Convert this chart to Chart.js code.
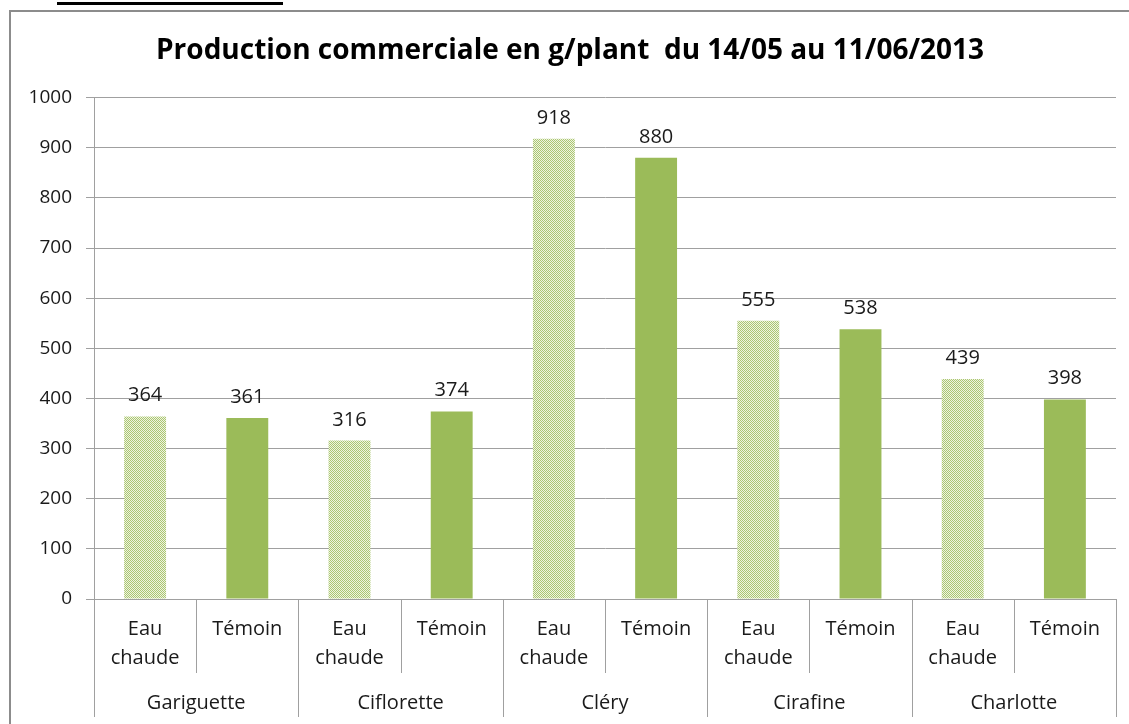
<!DOCTYPE html>
<html>
<head>
<meta charset="utf-8">
<script src="https://cdn.jsdelivr.net/npm/chart.js@4.4.0/dist/chart.umd.min.js"></script>
<style>
  html, body { margin: 0; padding: 0; background: #fff; }
  canvas { display: block; }
</style>
</head>
<body>
<canvas id="c" width="1129" height="724"></canvas>
<script>
// ---- data ----
const varieties = ['Gariguette', 'Ciflorette', 'Cléry', 'Cirafine', 'Charlotte'];
const treatments = [['Eau', 'chaude'], 'Témoin'];
const values = [364, 361, 316, 374, 918, 880, 555, 538, 439, 398];
const yMin = 0, yMax = 1000, yStep = 100;
const titleText = 'Production commerciale en g/plant  du 14/05 au 11/06/2013';

// ---- derived ----
const labels = [];
varieties.forEach(() => treatments.forEach(t => labels.push(t)));

// hatched pattern
function makePattern() {
  const p = document.createElement('canvas');
  p.width = 2; p.height = 2;
  const g = p.getContext('2d');
  g.fillStyle = '#eef4e0'; g.fillRect(0, 0, 2, 2);
  g.fillStyle = '#abc672'; g.fillRect(0, 0, 1, 1); g.fillRect(1, 1, 1, 1);
  return g.createPattern(p, 'repeat');
}
const ctx = document.getElementById('c').getContext('2d');
const hatch = makePattern();
const solid = '#9bbb59';
const colors = labels.map((_, i) => (i % 2 === 0 ? hatch : solid));

const FONT = "'Open Sans', 'Noto Sans', sans-serif";
const GRAY = '#a0a0a0';
const TEXT = '#1a1a1a';

const decorPlugin = {
  id: 'decor',
  beforeDraw(chart) {
    const c = chart.ctx;
    c.save();
    c.fillStyle = '#fff';
    c.fillRect(0, 0, chart.width, chart.height);
    c.strokeStyle = '#8c8c8c';
    c.lineWidth = 2;
    c.beginPath();
    c.moveTo(10, chart.height + 5);
    c.lineTo(10, 11);
    c.lineTo(chart.width + 5, 11);
    c.stroke();
    c.fillStyle = '#000';
    c.fillRect(57, 2, 226, 3);
    c.restore();
  },
  afterDraw(chart) {
    const c = chart.ctx;
    const x = chart.scales.x, x2 = chart.scales.x2;
    c.save();
    c.strokeStyle = GRAY;
    c.lineWidth = 1;
    for (let i = 0; i <= labels.length; i++) {
      const px = Math.round(x.getPixelForValue(i - 0.5)) + 0.5;
      const bottom = (i % treatments.length === 0) ? x2.bottom - 7 : x.bottom;
      c.beginPath();
      c.moveTo(px, x.top);
      c.lineTo(px, bottom);
      c.stroke();
    }
    // data labels
    const meta = chart.getDatasetMeta(0);
    c.fillStyle = TEXT;
    c.font = '20px ' + FONT;
    c.textAlign = 'center';
    c.textBaseline = 'alphabetic';
    meta.data.forEach((bar, i) => {
      c.fillText(String(values[i]), bar.x, bar.y - 15);
    });
    c.restore();
  }
};

new Chart(ctx, {
  type: 'bar',
  data: {
    labels: labels,
    datasets: [{
      data: values,
      backgroundColor: colors,
      borderWidth: 0,
      categoryPercentage: 1,
      barPercentage: 0.41
    }]
  },
  options: {
    responsive: false,
    animation: false,
    devicePixelRatio: 1,
    layout: { padding: { left: 24, right: 13, top: 0, bottom: 0 } },
    plugins: {
      legend: { display: false },
      tooltip: { enabled: false },
      title: {
        display: true,
        text: titleText,
        color: '#000',
        font: { family: FONT, size: 28, weight: 'bold', lineHeight: 1.2 },
        padding: { top: 34, bottom: 30 }
      }
    },
    scales: {
      y: {
        min: yMin, max: yMax,
        ticks: {
          stepSize: yStep, color: TEXT, font: { family: FONT, size: 19 }, padding: 14,
          callback: (v) => String(v)
        },
        grid: { color: GRAY, tickLength: 8, drawTicks: true },
        border: { display: true, color: GRAY },
        afterFit(s) { s.width = 70; }
      },
      x: {
        type: 'category',
        position: 'bottom',
        grid: { display: false, drawTicks: false },
        border: { display: true, color: GRAY },
        ticks: {
          color: TEXT, maxRotation: 0, autoSkip: false,
          font: { family: FONT, size: 20, lineHeight: '29px' },
          padding: 16
        },
        afterFit(s) { s.height = 74; }
      },
      x2: {
        type: 'category',
        position: 'bottom',
        labels: varieties,
        offset: true,
        grid: { display: false, drawTicks: false },
        border: { display: false },
        ticks: {
          color: TEXT, maxRotation: 0, autoSkip: false,
          font: { family: FONT, size: 20, lineHeight: 1.2 },
          padding: 18
        },
        afterFit(s) { s.height = 51; }
      }
    }
  },
  plugins: [decorPlugin]
});
</script>
</body>
</html>
